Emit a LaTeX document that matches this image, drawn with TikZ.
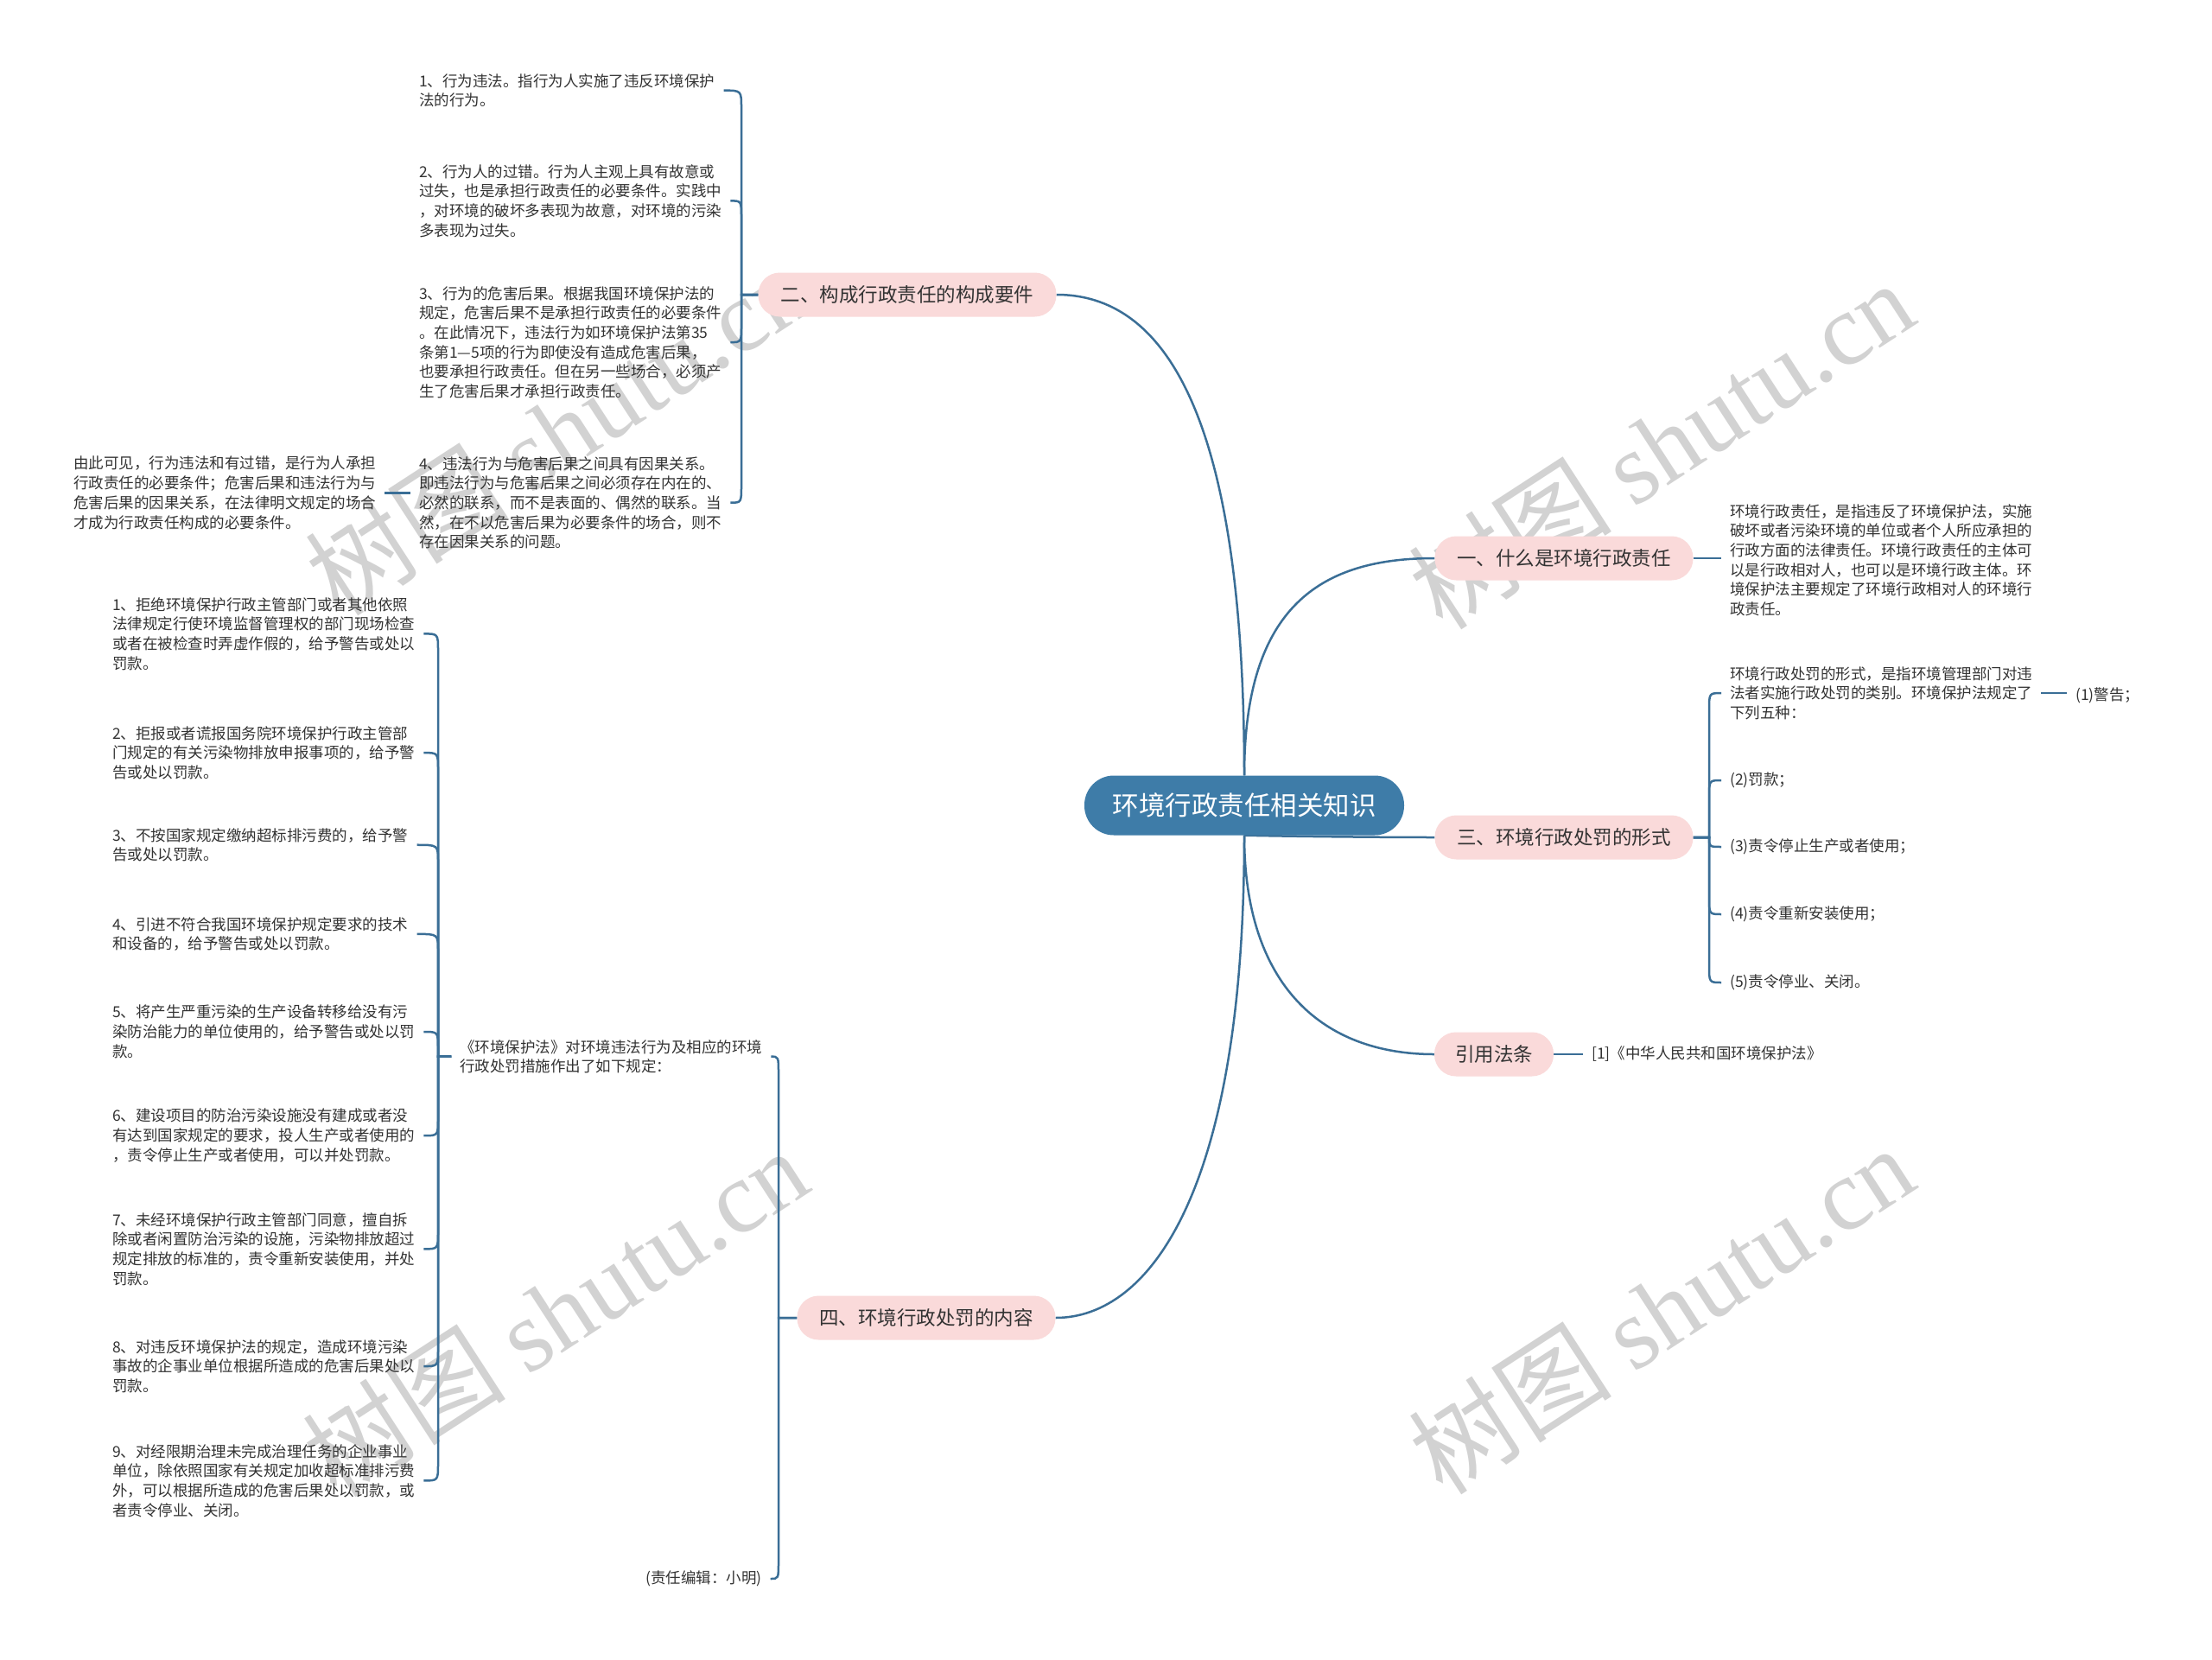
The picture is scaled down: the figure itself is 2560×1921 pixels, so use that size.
\documentclass[tikz,border=0pt]{standalone}
\usepackage{fontspec}
\setmainfont{Noto Sans CJK SC}
\newfontfamily\wmlatin{Liberation Serif}
\usetikzlibrary{calc}
\definecolor{linec}{RGB}{58,110,150}
\definecolor{rootfill}{RGB}{62,124,168}
\definecolor{pinkfill}{RGB}{250,218,218}
\definecolor{txtc}{RGB}{51,51,51}
\definecolor{wmc}{RGB}{210,210,210}
\pgfdeclarelayer{bg}
\pgfsetlayers{bg,main}
\newcommand\hookto[4]{\draw[cn] (#1) -- (#2) -- ($(#2 |- #3)+(0,#4)$) .. controls (#2 |- #3) .. (#3);}
\begin{document}
\begin{tikzpicture}[x=1pt,y=-1pt,
  cn/.style={draw=linec, line width=2.5pt},
  smalltxt/.style={font=\fontsize{17.5}{22.7}\selectfont, text=txtc, align=left, inner xsep=10pt, inner ysep=0pt, anchor=north west},
  onetxt/.style={font=\fontsize{17.5}{22.7}\selectfont, text=txtc, align=left, inner xsep=10pt, inner ysep=0pt, anchor=west},
  branch/.style={fill=pinkfill, rounded corners=25pt, font=\fontsize{22.5}{27}\selectfont, text=txtc, minimum height=51pt, inner xsep=0pt, anchor=center},
  root/.style={fill=rootfill, rounded corners=34pt, text=white, font=\fontsize{30.5}{36}\selectfont, minimum width=370pt, minimum height=69pt, inner xsep=0pt},
  wm/.style={text=wmc, rotate=33, font=\fontsize{118}{128}\selectfont}
]
\useasboundingbox (0,0) rectangle (2560,1921);

% main nodes
\node[root] (c) at (1440,932) {环境行政责任相关知识};
\node[branch, minimum width=345pt] (b2) at (1050,341) {二、构成行政责任的构成要件};
\node[branch, minimum width=299pt] (b1) at (1810,646) {一、什么是环境行政责任};
\node[branch, minimum width=299pt] (b3) at (1810,969) {三、环境行政处罚的形式};
\node[branch, minimum width=138pt] (b5) at (1729,1220) {引用法条};
\node[branch, minimum width=299pt] (b4) at (1072,1525) {四、环境行政处罚的内容};

% branch 2 children
\node[smalltxt] (t21) at (475,85) {1、行为违法。指行为人实施了违反环境保护\\法的行为。};
\node[smalltxt] (t22) at (475,190) {2、行为人的过错。行为人主观上具有故意或\\过失，也是承担行政责任的必要条件。实践中\\，对环境的破坏多表现为故意，对环境的污染\\多表现为过失。};
\node[smalltxt] (t23) at (475,331) {3、行为的危害后果。根据我国环境保护法的\\规定，危害后果不是承担行政责任的必要条件\\。在此情况下，违法行为如环境保护法第35\\条第1—5项的行为即使没有造成危害后果，\\也要承担行政责任。但在另一些场合，必须产\\生了危害后果才承担行政责任。};
\node[smalltxt] (t24) at (475,528) {4、违法行为与危害后果之间具有因果关系。\\即违法行为与危害后果之间必须存在内在的、\\必然的联系，而不是表面的、偶然的联系。当\\然，在不以危害后果为必要条件的场合，则不\\存在因果关系的问题。};
\node[smalltxt] (tsum) at (75,528) {由此可见，行为违法和有过错，是行为人承担\\行政责任的必要条件；危害后果和违法行为与\\危害后果的因果关系，在法律明文规定的场合\\才成为行政责任构成的必要条件。};

% branch 1 child
\node[smalltxt] (r1) at (1992,583) {环境行政责任，是指违反了环境保护法，实施\\破坏或者污染环境的单位或者个人所应承担的\\行政方面的法律责任。环境行政责任的主体可\\以是行政相对人，也可以是环境行政主体。环\\境保护法主要规定了环境行政相对人的环境行\\政责任。};

% branch 3 children
\node[smalltxt] (r3a) at (1992,771) {环境行政处罚的形式，是指环境管理部门对违\\法者实施行政处罚的类别。环境保护法规定了\\下列五种：};
\node[onetxt] (warn) at (2392,805) {(1)警告；};
\node[onetxt] (r3b) at (1992,903) {(2)罚款；};
\node[onetxt] (r3c) at (1992,980) {(3)责令停止生产或者使用；};
\node[onetxt] (r3d) at (1992,1058) {(4)责令重新安装使用；};
\node[onetxt] (r3e) at (1992,1137) {(5)责令停业、关闭。};

% branch 5 child
\node[onetxt] (ref) at (1832,1220) {[1]《中华人民共和国环境保护法》};

% branch 4 children
\node[smalltxt] (law) at (522,1203) {《环境保护法》对环境违法行为及相应的环境\\行政处罚措施作出了如下规定：};
\node[onetxt] (ed) at (737,1827) {(责任编辑：小明)};

\node[smalltxt] (p1) at (120,691) {1、拒绝环境保护行政主管部门或者其他依照\\法律规定行使环境监督管理权的部门现场检查\\或者在被检查时弄虚作假的，给予警告或处以\\罚款。};
\node[smalltxt] (p2) at (120,840) {2、拒报或者谎报国务院环境保护行政主管部\\门规定的有关污染物排放申报事项的，给予警\\告或处以罚款。};
\node[smalltxt] (p3) at (120,958) {3、不按国家规定缴纳超标排污费的，给予警\\告或处以罚款。};
\node[smalltxt] (p4) at (120,1061) {4、引进不符合我国环境保护规定要求的技术\\和设备的，给予警告或处以罚款。};
\node[smalltxt] (p5) at (120,1163) {5、将产生严重污染的生产设备转移给没有污\\染防治能力的单位使用的，给予警告或处以罚\\款。};
\node[smalltxt] (p6) at (120,1283) {6、建设项目的防治污染设施没有建成或者没\\有达到国家规定的要求，投人生产或者使用的\\，责令停止生产或者使用，可以并处罚款。};
\node[smalltxt] (p7) at (120,1403) {7、未经环境保护行政主管部门同意，擅自拆\\除或者闲置防治污染的设施，污染物排放超过\\规定排放的标准的，责令重新安装使用，并处\\罚款。};
\node[smalltxt] (p8) at (120,1550) {8、对违反环境保护法的规定，造成环境污染\\事故的企事业单位根据所造成的危害后果处以\\罚款。};
\node[smalltxt] (p9) at (120,1671) {9、对经限期治理未完成治理任务的企业事业\\单位，除依照国家有关规定加收超标准排污费\\外，可以根据所造成的危害后果处以罚款，或\\者责令停业、关闭。};

\begin{pgfonlayer}{bg}
\fill[white] (0,0) rectangle (2560,1921);
% watermarks
\node[wm] (w1) at (1922,514) {树图 {\wmlatin shutu.cn}};
\node[wm] (w2) at (645,498) {树图 {\wmlatin shutu.cn}};
\node[wm] (w3) at (642,1518) {树图 {\wmlatin shutu.cn}};
\node[wm] (w4) at (1922,1515) {树图 {\wmlatin shutu.cn}};

% main connectors
\draw[cn] (c.north) .. controls (1440,560) and (1380,341) .. (b2.east);
\draw[cn] (c.north) .. controls (1440,700) and (1530,646) .. (b1.west);
\draw[cn] (c.south) .. controls (1500,968) and (1600,969) .. (b3.west);
\draw[cn] (c.south) .. controls (1440,1140) and (1530,1220) .. (b5.west);
\draw[cn] (c.south) .. controls (1440,1380) and (1330,1525) .. (b4.east);

% branch 2
\coordinate (j2) at (858,341);
\hookto{b2.west}{j2}{t21.east}{20}
\hookto{b2.west}{j2}{t22.east}{20}
\hookto{b2.west}{j2}{t23.east}{-20}
\hookto{b2.west}{j2}{t24.east}{-20}
\draw[cn] (tsum.east) -- (tsum.east -| t24.west);

% branch 1
\draw[cn] (b1.east) -- (b1.east -| r1.west);

% branch 3
\coordinate (j3) at (1978,969);
\hookto{b3.east}{j3}{r3a.west}{20}
\hookto{b3.east}{j3}{r3b.west}{20}
\draw[cn] (b3.east) -- (j3) .. controls (j3 |- r3c.west) .. (r3c.west);
\hookto{b3.east}{j3}{r3d.west}{-20}
\hookto{b3.east}{j3}{r3e.west}{-20}
\draw[cn] (r3a.east) -- (r3a.east -| warn.west);

% branch 5
\draw[cn] (b5.east) -- (ref.west);

% branch 4
\coordinate (j4) at (901,1525);
\hookto{b4.west}{j4}{law.east}{20}
\hookto{b4.west}{j4}{ed.east}{-20}
\coordinate (jl) at ([xshift=-15pt]law.west);
\hookto{law.west}{jl}{p1.east}{20}
\hookto{law.west}{jl}{p2.east}{20}
\hookto{law.west}{jl}{p3.east}{20}
\hookto{law.west}{jl}{p4.east}{20}
\hookto{law.west}{jl}{p5.east}{20}
\hookto{law.west}{jl}{p6.east}{-20}
\hookto{law.west}{jl}{p7.east}{-20}
\hookto{law.west}{jl}{p8.east}{-20}
\hookto{law.west}{jl}{p9.east}{-20}
\end{pgfonlayer}
\end{tikzpicture}
\end{document}
